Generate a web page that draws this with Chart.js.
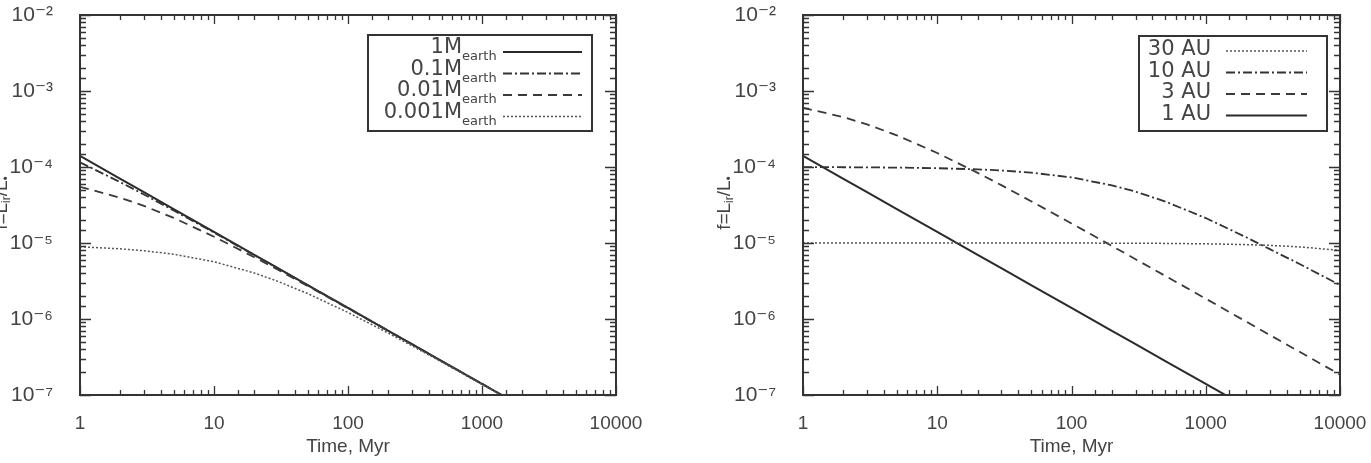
<!DOCTYPE html>
<html><head><meta charset="utf-8">
<script src="https://cdn.jsdelivr.net/npm/chart.js@4.4.0/dist/chart.umd.min.js"></script>
<style>
html,body{margin:0;padding:0;background:#fff;width:1371px;height:463px;overflow:hidden;position:relative}
canvas{position:absolute;top:-30px}
#c1{left:-38px}
#c2{left:685px}
</style></head><body>
<canvas id="c1" width="700" height="493"></canvas>
<canvas id="c2" width="740" height="493"></canvas>
<script>
// ---- data ----
const times = [1,2,3,5,10,20,30,50,100,200,300,500,1000,2000,3000,5000,10000];

// left panel: planet mass
const massLabels = ['1M','0.1M','0.01M','0.001M'];
const massSub = 'earth';
const mass1    = [1.4e-4,7e-5,4.67e-5,2.8e-5,1.4e-5,7e-6,4.67e-6,2.8e-6,1.4e-6,7e-7,4.67e-7,2.8e-7,1.4e-7,7e-8,4.67e-8,2.8e-8,1.4e-8];
const mass01   = [1.15e-4,6.31e-5,4.35e-5,2.68e-5,1.37e-5,6.92e-6,4.63e-6,2.79e-6,1.4e-6,7e-7,4.67e-7,2.8e-7,1.4e-7,7e-8,4.67e-8,2.8e-8,1.4e-8];
const mass001  = [5.49e-5,3.94e-5,3.08e-5,2.14e-5,1.21e-5,6.5e-6,4.44e-6,2.72e-6,1.38e-6,6.95e-7,4.64e-7,2.79e-7,1.4e-7,7e-8,4.67e-8,2.8e-8,1.4e-8];
const mass0001 = [8.92e-6,8.38e-6,7.91e-6,7.11e-6,5.67e-6,4.03e-6,3.13e-6,2.16e-6,1.22e-6,6.52e-7,4.44e-7,2.72e-7,1.38e-7,6.95e-8,4.64e-8,2.79e-8,1.4e-8];

// right panel: distance
const distLabels = ['30 AU','10 AU','3 AU','1 AU'];
const dist30 = [1e-5,1e-5,1e-5,1e-5,1e-5,1e-5,1e-5,1e-5,9.98e-6,9.95e-6,9.93e-6,9.88e-6,9.76e-6,9.52e-6,9.3e-6,8.89e-6,8e-6];
const dist10 = [9.96e-5,9.93e-5,9.89e-5,9.82e-5,9.64e-5,9.31e-5,9e-5,8.44e-5,7.3e-5,5.74e-5,4.74e-5,3.51e-5,2.13e-5,1.19e-5,8.3e-6,5.3e-6,2.8e-6];
const dist3  = [6.0e-4,4.53e-4,3.64e-4,2.61e-4,1.53e-4,8.38e-5,5.77e-5,3.55e-5,1.81e-5,9.15e-6,6.12e-6,3.69e-6,1.85e-6,9.24e-7,6.16e-7,3.7e-7,1.85e-7];
const dist1  = [1.4e-4,7e-5,4.67e-5,2.8e-5,1.4e-5,7e-6,4.67e-6,2.8e-6,1.4e-6,7e-7,4.67e-7,2.8e-7,1.4e-7,7e-8,4.67e-8,2.8e-8,1.4e-8];

// tick labels
const xTickLabels = ['1','10','100','1000','10000'];          // 10^0 .. 10^4
const yTickLabels = ['10⁻⁷','10⁻⁶','10⁻⁵','10⁻⁴','10⁻³','10⁻²']; // 10^-7 .. 10^-2
const xAxisTitle = 'Time, Myr';

// ---- helpers ----
const INK = '#333';
const TXT = '#444';
const CANVAS_TOP = -30;
const pts = arr => times.map((t,i)=>({x:t,y:arr[i]}));
const pow10 = v => { const e = Math.log10(v); const r = Math.round(e); return Math.abs(e-r) < 1e-6 ? r : null; };

const styles = {
  solid:   {borderDash:[], borderWidth:2, borderColor:'#2a2a2a'},
  dashdot: {borderDash:[9,3,2,3], borderWidth:1.8, borderColor:'#333'},
  dashed:  {borderDash:[9,6], borderWidth:1.8, borderColor:'#3a3a3a'},
  dotted:  {borderDash:[2,2], borderWidth:1.5, borderColor:'#555'}
};
function ds(label, arr, st){
  return Object.assign({label, data: pts(arr), pointRadius:0, fill:false, tension:0}, styles[st]);
}

// frame + inward tick marks
const frameTicks = {
  id:'frameTicks',
  afterDatasetsDraw(chart){
    const ctx = chart.ctx, a = chart.chartArea, xs = chart.scales.x, ys = chart.scales.y;
    ctx.save();
    ctx.strokeStyle = INK; ctx.lineWidth = 1.3; ctx.setLineDash([]);
    ctx.beginPath();
    xs.ticks.forEach(t=>{
      const p = Math.round(xs.getPixelForValue(t.value))+0.5;
      if (p < a.left-1 || p > a.right+1) return;
      const L = pow10(t.value)!==null ? 9 : 5;
      ctx.moveTo(p,a.bottom); ctx.lineTo(p,a.bottom-L);
      ctx.moveTo(p,a.top); ctx.lineTo(p,a.top+L);
    });
    ys.ticks.forEach(t=>{
      const p = Math.round(ys.getPixelForValue(t.value))+0.5;
      if (p < a.top-1 || p > a.bottom+1) return;
      const L = pow10(t.value)!==null ? 11 : 6;
      ctx.moveTo(a.left,p); ctx.lineTo(a.left+L,p);
      ctx.moveTo(a.right,p); ctx.lineTo(a.right-L,p);
    });
    ctx.stroke();
    ctx.lineWidth = 2;
    ctx.strokeRect(a.left, a.top, a.right-a.left, a.bottom-a.top);
    ctx.restore();
  }
};

// y-axis title with subscripts
const yTitle = {
  id:'yTitle',
  afterDraw(chart){
    const ctx = chart.ctx, a = chart.chartArea;
    const parts = [['f=L',0,19],['ir',5,12],['/L',0,19],['•',5,12]];
    ctx.save();
    ctx.fillStyle = TXT; ctx.textBaseline='middle'; ctx.textAlign='left';
    let w = 0;
    parts.forEach(p=>{ ctx.font = p[2]+'px "Liberation Sans", "DejaVu Sans", sans-serif'; w += ctx.measureText(p[0]).width; });
    ctx.translate(a.left-78, a.top+188);
    ctx.rotate(-Math.PI/2);
    let x = -w/2;
    parts.forEach(p=>{
      ctx.font = p[2]+'px "Liberation Sans", "DejaVu Sans", sans-serif';
      ctx.fillText(p[0], x, p[1]);
      x += ctx.measureText(p[0]).width;
    });
    ctx.restore();
  }
};

// boxed legend: text right-aligned, line sample on the right (positions relative to plot top-right)
const boxLegend = {
  id:'boxLegend',
  afterDraw(chart, args, o){
    const ctx = chart.ctx, R = chart.chartArea.right, T = chart.chartArea.top;
    ctx.save();
    ctx.fillStyle='#fff';
    ctx.fillRect(R+o.bx0, T+o.by0, o.bx1-o.bx0, o.by1-o.by0);
    ctx.strokeStyle=INK; ctx.lineWidth=2; ctx.setLineDash([]);
    ctx.strokeRect(R+o.bx0, T+o.by0, o.bx1-o.bx0, o.by1-o.by0);
    o.order.forEach((di,k)=>{
      const d = chart.data.datasets[di];
      const y = T + o.row0 + k*o.rowH;
      ctx.fillStyle = TXT;
      ctx.font = '21px "DejaVu Sans", sans-serif';
      ctx.textAlign='right'; ctx.textBaseline='middle';
      ctx.fillText(d.label, R+o.tx, y);
      if (o.sub){
        ctx.font = '13px "DejaVu Sans", sans-serif';
        ctx.textAlign='left';
        ctx.fillText(o.sub, R+o.tx, y+9);
      }
      ctx.strokeStyle = d.borderColor; ctx.lineWidth = d.borderWidth;
      ctx.setLineDash(d.borderDash);
      ctx.beginPath(); ctx.moveTo(R+o.lx0, y+o.ly); ctx.lineTo(R+o.lx1, y+o.ly); ctx.stroke();
    });
    ctx.restore();
  }
};

function makeOptions(rightPad, legendOpts){
  return {
    responsive:false, animation:false, devicePixelRatio:1,
    layout:{padding:{top:45,right:rightPad,left:0,bottom:0}},
    plugins:{legend:{display:false}, tooltip:{enabled:false}, boxLegend:legendOpts},
    scales:{
      x:{type:'logarithmic', min:1, max:10000,
         grid:{display:false}, border:{display:false},
         ticks:{autoSkip:false, maxRotation:0, padding:9, color:TXT,
                font:{family:'"Liberation Sans", "DejaVu Sans", sans-serif', size:19},
                callback:v=>{ const e = pow10(v); return e===null ? '' : (xTickLabels[e] ?? ''); }},
         title:{display:true, text:xAxisTitle, color:TXT, padding:{top:0,bottom:5},
                font:{family:'"Liberation Sans", "DejaVu Sans", sans-serif', size:19}},
         afterFit:s=>{ s.height = 68; }},
      y:{type:'logarithmic', min:1e-7, max:1e-2,
         grid:{display:false}, border:{display:false},
         ticks:{autoSkip:false, padding:19, color:TXT,
                font:{family:'"Liberation Sans", "DejaVu Sans", sans-serif', size:21},
                callback:v=>{ const e = pow10(v); return e===null ? '' : (yTickLabels[e+7] ?? ''); }},
         afterFit:s=>{ s.width = 118; }}
    }
  };
}

// adjust layout padding so the plot frame lands on the target page coordinates
function place(chart, cssLeft, targetTop, targetRight){
  for (let i=0;i<5;i++){
    const a = chart.chartArea, p = chart.options.layout.padding;
    const dTop = (targetTop - CANVAS_TOP) - a.top;
    const dRight = a.right - (targetRight - cssLeft);
    if (Math.abs(dTop) < 0.5 && Math.abs(dRight) < 0.5) break;
    p.top += dTop; p.right += dRight;
    chart.update();
  }
}

const ch1 = new Chart(document.getElementById('c1'), {
  type:'line',
  data:{datasets:[
    ds(massLabels[3], mass0001, 'dotted'),
    ds(massLabels[2], mass001, 'dashed'),
    ds(massLabels[1], mass01, 'dashdot'),
    ds(massLabels[0], mass1, 'solid')
  ]},
  options: makeOptions(46, {bx0:-248, bx1:-24, by0:20, by1:116, row0:33, rowH:21.5,
                            tx:-154, sub:massSub, lx0:-113, lx1:-34, ly:4, order:[3,2,1,0]}),
  plugins:[frameTicks, boxLegend, yTitle]
});
place(ch1, -38, 15, 616);

const ch2 = new Chart(document.getElementById('c2'), {
  type:'line',
  data:{datasets:[
    ds(distLabels[0], dist30, 'dotted'),
    ds(distLabels[1], dist10, 'dashdot'),
    ds(distLabels[2], dist3, 'dashed'),
    ds(distLabels[3], dist1, 'solid')
  ]},
  options: makeOptions(85, {bx0:-201, bx1:-13, by0:21, by1:116, row0:35, rowH:21.5,
                            tx:-129, sub:null, lx0:-114, lx1:-33, ly:1, order:[0,1,2,3]}),
  plugins:[frameTicks, boxLegend, yTitle]
});
place(ch2, 685, 15, 1340);
</script>
</body></html>
